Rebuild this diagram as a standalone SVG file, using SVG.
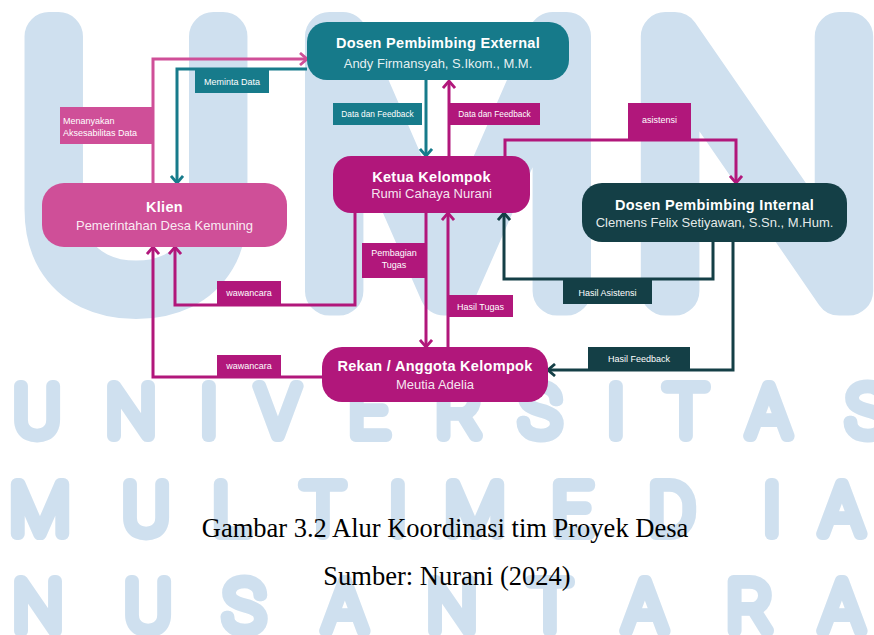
<svg xmlns="http://www.w3.org/2000/svg" width="874" height="635" viewBox="0 0 874 635">
<style>
.wm{font-family:Roboto,"Liberation Sans",sans-serif;font-weight:100;fill:#cfe0ef;stroke:#cfe0ef;stroke-linejoin:round;stroke-linecap:round;text-anchor:middle}
.big{font-size:358px;stroke-width:49px}
.row{font-size:70px;stroke-width:12px}
.t{font-family:"Liberation Sans",Arial,sans-serif;font-weight:bold;font-size:14.5px;letter-spacing:0.3px;fill:#fff;text-anchor:middle}
.s{font-family:"Liberation Sans",Arial,sans-serif;font-size:13px;fill:#fff;fill-opacity:0.9;text-anchor:middle}
.l{font-family:"Liberation Sans",Arial,sans-serif;font-size:9px;fill:#fff;text-anchor:middle}
.cap{font-family:"Liberation Serif","Times New Roman",serif;font-size:26.5px;fill:#000;text-anchor:middle}
.c{fill:none;stroke-width:3}
</style>
<defs>
<marker id="aP" viewBox="0 0 14 14" refX="12" refY="7" markerWidth="14" markerHeight="14" markerUnits="userSpaceOnUse" orient="auto"><path d="M5,1 L12,7 L5,13" fill="none" stroke="#cf4f98" stroke-width="2.8"/></marker>
<marker id="aM" viewBox="0 0 14 14" refX="12" refY="7" markerWidth="14" markerHeight="14" markerUnits="userSpaceOnUse" orient="auto"><path d="M5,1 L12,7 L5,13" fill="none" stroke="#b1177b" stroke-width="2.8"/></marker>
<marker id="aT" viewBox="0 0 14 14" refX="12" refY="7" markerWidth="14" markerHeight="14" markerUnits="userSpaceOnUse" orient="auto"><path d="M5,1 L12,7 L5,13" fill="none" stroke="#177b8b" stroke-width="2.8"/></marker>
<marker id="aD" viewBox="0 0 14 14" refX="12" refY="7" markerWidth="14" markerHeight="14" markerUnits="userSpaceOnUse" orient="auto"><path d="M5,1 L12,7 L5,13" fill="none" stroke="#143f46" stroke-width="2.8"/></marker>
</defs>
<rect width="874" height="635" fill="#fff"/>
<g id="watermark">
<text class="wm big" x="136" y="291">U</text>
<text class="wm big" x="448" y="291">M</text>
<text class="wm big" x="757" y="291">N</text>
<text class="wm row" y="436"><tspan x="37">U</tspan><tspan x="131">N</tspan><tspan x="209">I</tspan><tspan x="278">V</tspan><tspan x="369">E</tspan><tspan x="459">R</tspan><tspan x="540">S</tspan><tspan x="616">I</tspan><tspan x="686">T</tspan><tspan x="769">A</tspan><tspan x="867">S</tspan></text>
<text class="wm row" y="534"><tspan x="40">M</tspan><tspan x="146">U</tspan><tspan x="231">L</tspan><tspan x="323">T</tspan><tspan x="398">I</tspan><tspan x="475">M</tspan><tspan x="572">E</tspan><tspan x="672">D</tspan><tspan x="772">I</tspan><tspan x="842">A</tspan></text>
<text class="wm row" y="631"><tspan x="38">N</tspan><tspan x="148">U</tspan><tspan x="244">S</tspan><tspan x="345">A</tspan><tspan x="452">N</tspan><tspan x="550">T</tspan><tspan x="645">A</tspan><tspan x="750">R</tspan><tspan x="842">A</tspan></text>
</g>
<g id="connectors">
<path class="c" stroke="#cf4f98" d="M153,183 V59 H307" marker-end="url(#aP)"/>
<path class="c" stroke="#177b8b" d="M307,69 H177 V183" marker-end="url(#aT)"/>
<path class="c" stroke="#177b8b" d="M426,80 V156" marker-end="url(#aT)"/>
<path class="c" stroke="#b1177b" d="M449,156 V81" marker-end="url(#aM)"/>
<path class="c" stroke="#b1177b" d="M505,157 V140 H736 V183" marker-end="url(#aM)"/>
<path class="c" stroke="#143f46" d="M713,242 V279 H504 V213" marker-end="url(#aD)"/>
<path class="c" stroke="#143f46" d="M733,242 V370 H548" marker-end="url(#aD)"/>
<path class="c" stroke="#b1177b" d="M426,213 V347" marker-end="url(#aM)"/>
<path class="c" stroke="#b1177b" d="M448,347 V213" marker-end="url(#aM)"/>
<path class="c" stroke="#b1177b" d="M355,212 V305 H175 V247" marker-end="url(#aM)"/>
<path class="c" stroke="#b1177b" d="M322,377 H153 V247" marker-end="url(#aM)"/>
</g>
<g id="labels">
<g id="lbl-meminta"><rect x="195" y="70" width="74" height="23" fill="#177b8b"/><text class="l" x="232" y="85">Meminta Data</text></g>
<g id="lbl-menanyakan"><rect x="60" y="107" width="93" height="37" fill="#cf4f98"/><text class="l" x="63" y="124" style="text-anchor:start">Menanyakan</text><text class="l" x="63" y="135.5" style="text-anchor:start">Aksesabilitas Data</text></g>
<g id="lbl-datafb1"><rect x="333" y="103" width="89" height="22" fill="#177b8b"/><text class="l" x="377.5" y="117" style="font-size:8.3px">Data dan Feedback</text></g>
<g id="lbl-datafb2"><rect x="449" y="103" width="91" height="22" fill="#b1177b"/><text class="l" x="494.5" y="117" style="font-size:8.3px">Data dan Feedback</text></g>
<g id="lbl-asistensi"><rect x="628" y="103" width="63" height="36" fill="#b1177b"/><text class="l" x="659.5" y="123">asistensi</text></g>
<g id="lbl-pembagian"><rect x="362" y="243" width="64" height="35" fill="#b1177b"/><text class="l" x="394" y="256">Pembagian</text><text class="l" x="394" y="268">Tugas</text></g>
<g id="lbl-hasiltugas"><rect x="448" y="295" width="65" height="22" fill="#b1177b"/><text class="l" x="480.5" y="309.5">Hasil Tugas</text></g>
<g id="lbl-wawancara1"><rect x="217" y="281" width="64" height="24" fill="#b1177b"/><text class="l" x="249" y="296">wawancara</text></g>
<g id="lbl-wawancara2"><rect x="217" y="355" width="64" height="22" fill="#b1177b"/><text class="l" x="249" y="369">wawancara</text></g>
<g id="lbl-hasilasistensi"><rect x="563" y="280" width="89" height="24" fill="#143f46"/><text class="l" x="607.5" y="295.5">Hasil Asistensi</text></g>
<g id="lbl-hasilfeedback"><rect x="588" y="347" width="102" height="23" fill="#143f46"/><text class="l" x="639" y="361.5">Hasil Feedback</text></g>
</g>
<g id="node-external"><rect x="307" y="22" width="262" height="58" rx="20" fill="#167a8a"/><text class="t" x="438" y="48">Dosen Pembimbing External</text><text class="s" x="438" y="68">Andy Firmansyah, S.Ikom., M.M.</text></g>
<g id="node-ketua"><rect x="333" y="156" width="197" height="57" rx="18" fill="#b1177b"/><text class="t" x="431.5" y="182">Ketua Kelompok</text><text class="s" x="431.5" y="198">Rumi Cahaya Nurani</text></g>
<g id="node-klien"><rect x="42" y="183" width="245" height="64" rx="22" fill="#cf4f98"/><text class="t" x="164.5" y="212">Klien</text><text class="s" x="164.5" y="230">Pemerintahan Desa Kemuning</text></g>
<g id="node-internal"><rect x="582" y="183" width="265" height="59" rx="20" fill="#143f46"/><text class="t" x="714.5" y="210">Dosen Pembimbing Internal</text><text class="s" x="714.5" y="227">Clemens Felix Setiyawan, S.Sn., M.Hum.</text></g>
<g id="node-rekan"><rect x="322" y="347" width="226" height="55" rx="20" fill="#b1177b"/><text class="t" x="435" y="371">Rekan / Anggota Kelompok</text><text class="s" x="435" y="389">Meutia Adelia</text></g>
<g id="caption">
<text class="cap" x="445" y="537">Gambar 3.2 Alur Koordinasi tim Proyek Desa</text>
<text class="cap" x="447" y="585">Sumber: Nurani (2024)</text>
</g>
</svg>
